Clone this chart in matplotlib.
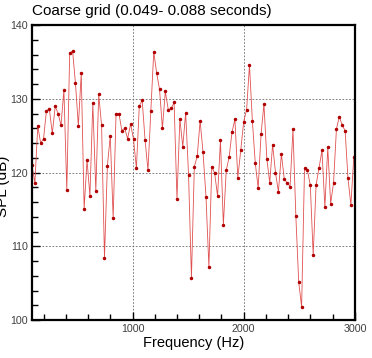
import matplotlib
matplotlib.use('Agg')
import matplotlib.pyplot as plt
from matplotlib.ticker import MultipleLocator

plt.rcParams['font.family'] = ['Liberation Sans', 'DejaVu Sans']

# spectrum (Hz, dB)
freq = [96, 122, 148, 174, 200, 226, 252, 279, 305, 331,
        357, 383, 409, 435, 461, 487, 513, 539, 565, 591,
        617, 643, 670, 696, 722, 748, 774, 800, 826, 852,
        878, 904, 930, 956, 983, 1009, 1035, 1061, 1087, 1113,
        1139, 1165, 1191, 1217, 1243, 1269, 1295, 1322, 1348, 1374,
        1400, 1426, 1452, 1478, 1504, 1530, 1556, 1582, 1608, 1634,
        1661, 1687, 1713, 1739, 1765, 1791, 1817, 1843, 1869, 1895,
        1921, 1947, 1974, 2000, 2026, 2052, 2078, 2104, 2130, 2156,
        2182, 2208, 2234, 2260, 2286, 2312, 2339, 2365, 2391, 2417,
        2443, 2469, 2495, 2521, 2547, 2573, 2599, 2625, 2651, 2677,
        2704, 2730, 2756, 2782, 2808, 2834, 2860, 2886, 2912, 2938,
        2964, 2990]
spl = [121.0, 118.6, 126.3, 124.0, 124.6, 128.4, 128.6, 125.3, 129.0, 128.0,
       126.4, 131.2, 117.6, 136.2, 136.5, 132.1, 126.3, 133.5, 115.1, 121.7,
       116.8, 129.4, 117.5, 130.6, 126.4, 108.4, 120.9, 125.0, 113.8, 128.0,
       128.0, 125.7, 126.0, 124.6, 126.6, 124.5, 120.6, 129.0, 129.8, 124.4,
       120.3, 128.4, 136.4, 133.5, 131.3, 126.0, 131.0, 128.5, 128.7, 129.5,
       116.4, 127.3, 123.5, 128.1, 119.7, 105.7, 120.8, 122.2, 127.0, 122.8,
       116.7, 107.2, 120.8, 119.9, 116.8, 124.4, 112.9, 120.3, 122.1, 125.5,
       127.2, 119.3, 123.1, 126.9, 128.5, 134.6, 127.0, 121.3, 117.9, 125.2,
       129.3, 121.9, 118.6, 123.8, 120.0, 117.4, 122.5, 119.1, 118.6, 118.1,
       125.9, 114.1, 105.1, 101.8, 120.6, 120.3, 118.3, 108.8, 118.3, 120.6,
       123.0, 115.3, 123.4, 115.8, 118.6, 125.9, 127.6, 126.4, 125.7, 119.2,
       115.6, 122.1]

fig = plt.figure(figsize=(3.72, 3.58), dpi=100)
ax = fig.add_axes([0.086, 0.106, 0.868, 0.824])

ax.plot(freq, spl, color='#e05050', linewidth=0.6, marker='o', markersize=1.5,
        markerfacecolor='#b00000', markeredgecolor='#b00000')

ax.set_xlim(96, 3000)
ax.set_ylim(100, 140)
ax.xaxis.set_major_locator(MultipleLocator(1000))
ax.xaxis.set_minor_locator(MultipleLocator(200))
ax.yaxis.set_major_locator(MultipleLocator(10))
ax.yaxis.set_minor_locator(MultipleLocator(2))

ax.grid(True, which='major', color='#666666', linestyle=(0, (2, 2)), linewidth=0.6)
ax.tick_params(which='both', direction='in', top=False, right=False,
               labelsize=7.7, labelcolor='#404040', width=1.0, pad=3)
ax.tick_params(which='major', length=6)
ax.tick_params(which='minor', length=4)
for s in ax.spines.values():
    s.set_linewidth(1.6)

ax.set_xlabel('Frequency (Hz)', fontsize=10.5, labelpad=1)
fig.text(0.086, 0.958, 'Coarse grid (0.049- 0.088 seconds)', fontsize=11,
         ha='left', va='baseline')
# the y label sits partly outside the figure, as in the original
fig.text(0.008, 0.48, 'SPL (dB)', fontsize=11, rotation=90, ha='center', va='center')

fig.savefig('out.png', dpi=100)
